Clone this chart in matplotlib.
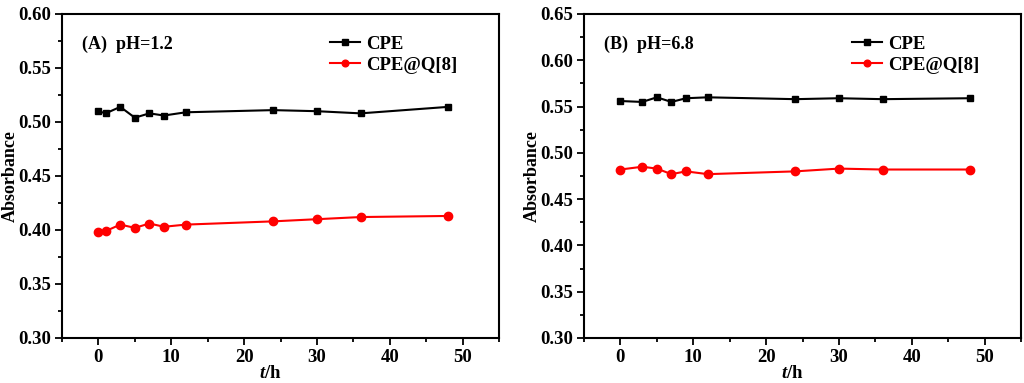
import numpy as np
from matplotlib import pyplot as plt
from matplotlib.ticker import MultipleLocator

# panel A, pH 1.2
t_a = [0, 1, 3, 5, 7, 9, 12, 24, 30, 36, 48]
cpe_a = [0.510, 0.508, 0.514, 0.504, 0.508, 0.506, 0.509, 0.511, 0.510, 0.508, 0.514]
q8_a = [0.398, 0.399, 0.405, 0.402, 0.406, 0.403, 0.405, 0.408, 0.410, 0.412, 0.413]

# panel B, pH 6.8
t_b = [0, 3, 5, 7, 9, 12, 24, 30, 36, 48]
cpe_b = [0.556, 0.555, 0.560, 0.555, 0.559, 0.560, 0.558, 0.559, 0.558, 0.559]
q8_b = [0.482, 0.485, 0.483, 0.477, 0.480, 0.477, 0.480, 0.483, 0.482, 0.482]

labels = ['CPE', 'CPE@Q[8]']
titles = ['(A)  pH=1.2', '(B)  pH=6.8']
ylims = [(0.30, 0.60), (0.30, 0.65)]

plt.rcParams['font.family'] = 'Liberation Serif'
plt.rcParams['font.weight'] = 'bold'
plt.rcParams['axes.labelweight'] = 'bold'
plt.rcParams['mathtext.fontset'] = 'custom'
plt.rcParams['mathtext.it'] = 'Liberation Serif:italic:bold'
plt.rcParams['mathtext.rm'] = 'Liberation Serif:bold'

W, H = 1024, 383
fig = plt.figure(figsize=(W / 100, H / 100), dpi=100)

def px_axes(x0, y0, x1, y1):
    return fig.add_axes([x0 / W, 1 - y1 / H, (x1 - x0) / W, (y1 - y0) / H])

ax_a = px_axes(62, 14, 499, 338)
ax_b = px_axes(584, 14, 1021, 338)

fs = 13.5
panels = [(ax_a, t_a, cpe_a, q8_a), (ax_b, t_b, cpe_b, q8_b)]
for i, (ax, t, cpe, q8) in enumerate(panels):
    ax.plot(t, cpe, '-s', color='black', lw=1.5, ms=5, label=labels[0])
    ax.plot(t, q8, '-o', color='red', lw=1.5, ms=6, label=labels[1])
    ax.set_xlim(-5, 55)
    ax.set_ylim(*ylims[i])
    ax.xaxis.set_major_locator(MultipleLocator(10))
    ax.xaxis.set_minor_locator(MultipleLocator(5))
    ax.yaxis.set_major_locator(MultipleLocator(0.05))
    ax.yaxis.set_minor_locator(MultipleLocator(0.025))
    ax.yaxis.set_major_formatter(plt.FormatStrFormatter('%.2f'))
    ax.tick_params(which='both', direction='out', width=1.3, labelsize=fs, pad=3)
    ax.tick_params(which='major', length=5)
    ax.tick_params(which='minor', length=3)
    for s in ax.spines.values():
        s.set_linewidth(1.5)
    ax.set_ylabel('Absorbance', fontsize=13)
    ax.yaxis.set_label_coords(-0.098, 0.5)
    ax.set_xlabel(r'$t$/h', fontsize=fs)
    ax.xaxis.set_label_coords(0.476, -0.083)
    ax.text(0.045, 0.905, titles[i], transform=ax.transAxes, fontsize=13,
            va='center', ha='left')
    ax.legend(loc='upper left', bbox_to_anchor=(0.575, 0.985),
              frameon=False, fontsize=fs, handlelength=1.6, handletextpad=0.3,
              labelspacing=0.2, markerscale=0.8)

fig.savefig('out.png', dpi=100)
